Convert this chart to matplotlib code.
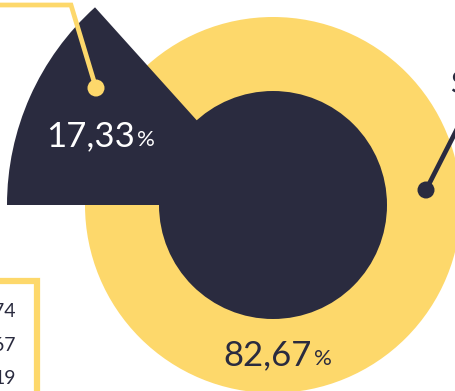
import matplotlib.pyplot as plt
from matplotlib.patches import Circle, Wedge, Rectangle

# --- Data ---
share_values = [82.67, 17.33]          # main ring, pulled-out slice
share_labels = ["82,67", "17,33"]
side_values = ["74", "67", "19"]
side_title = "S"
# --- End Data ---

YELLOW = "#FDD86B"
NAVY = "#2A2B3F"
W, H = 456, 391

# Layout in pixel units (y grows downward)
CENTER = (273, 205)
RING_R = 188
HOLE_R = 114
SLICE_R = 266
SLICE_THETA = (180, 228)

fig = plt.figure(figsize=(W / 100, H / 100), dpi=100)
ax = fig.add_axes([0, 0, 1, 1])
ax.set_xlim(0, W)
ax.set_ylim(H, 0)
ax.set_aspect("equal")
ax.axis("off")

# yellow ring + dark centre
ax.add_patch(Circle(CENTER, RING_R, color=YELLOW, lw=0, zorder=1))
ax.add_patch(Circle(CENTER, HOLE_R, color=NAVY, lw=0, zorder=2))
# pulled-out slice
ax.add_patch(Wedge(CENTER, SLICE_R, SLICE_THETA[0], SLICE_THETA[1],
                   color=NAVY, lw=0, zorder=3))

# yellow leader to the slice
ax.plot([-10, 71, 96], [5, 5, 88], color=YELLOW, lw=3.4,
        solid_joinstyle="miter", zorder=4)
ax.add_patch(Circle((96, 88), 8.5, color=YELLOW, lw=0, zorder=5))

# dark leader to the ring
ax.plot([426, 470], [190, 103.5], color=NAVY, lw=3.4, zorder=4)
ax.add_patch(Circle((426, 190), 8.5, color=NAVY, lw=0, zorder=5))
ax.text(450, 93, side_title, fontsize=22, color=NAVY, family="Lato",
        ha="left", va="baseline", zorder=6)

# percentage labels: big number, small %
font = dict(family="Lato", fontweight="normal")
ax.text(135, 146, share_labels[1], fontsize=25, color="white",
        ha="right", va="baseline", zorder=6, **font)
ax.text(137, 146, "%", fontsize=16, color="white",
        ha="left", va="baseline", zorder=6, **font)
ax.text(312, 365, share_labels[0], fontsize=25, color=NAVY,
        ha="right", va="baseline", zorder=6, **font)
ax.text(314, 365, "%", fontsize=16, color=NAVY,
        ha="left", va="baseline", zorder=6, **font)

# side box with values
ax.add_patch(Rectangle((-20, 281), 57, 160, fill=False, edgecolor=YELLOW,
                       lw=4.5, zorder=4))
for val, y in zip(side_values, [317, 351, 384]):
    ax.text(16, y, val, fontsize=14, color=NAVY, family="Lato",
            ha="right", va="baseline", zorder=6)

fig.savefig("out.png", dpi=100)
